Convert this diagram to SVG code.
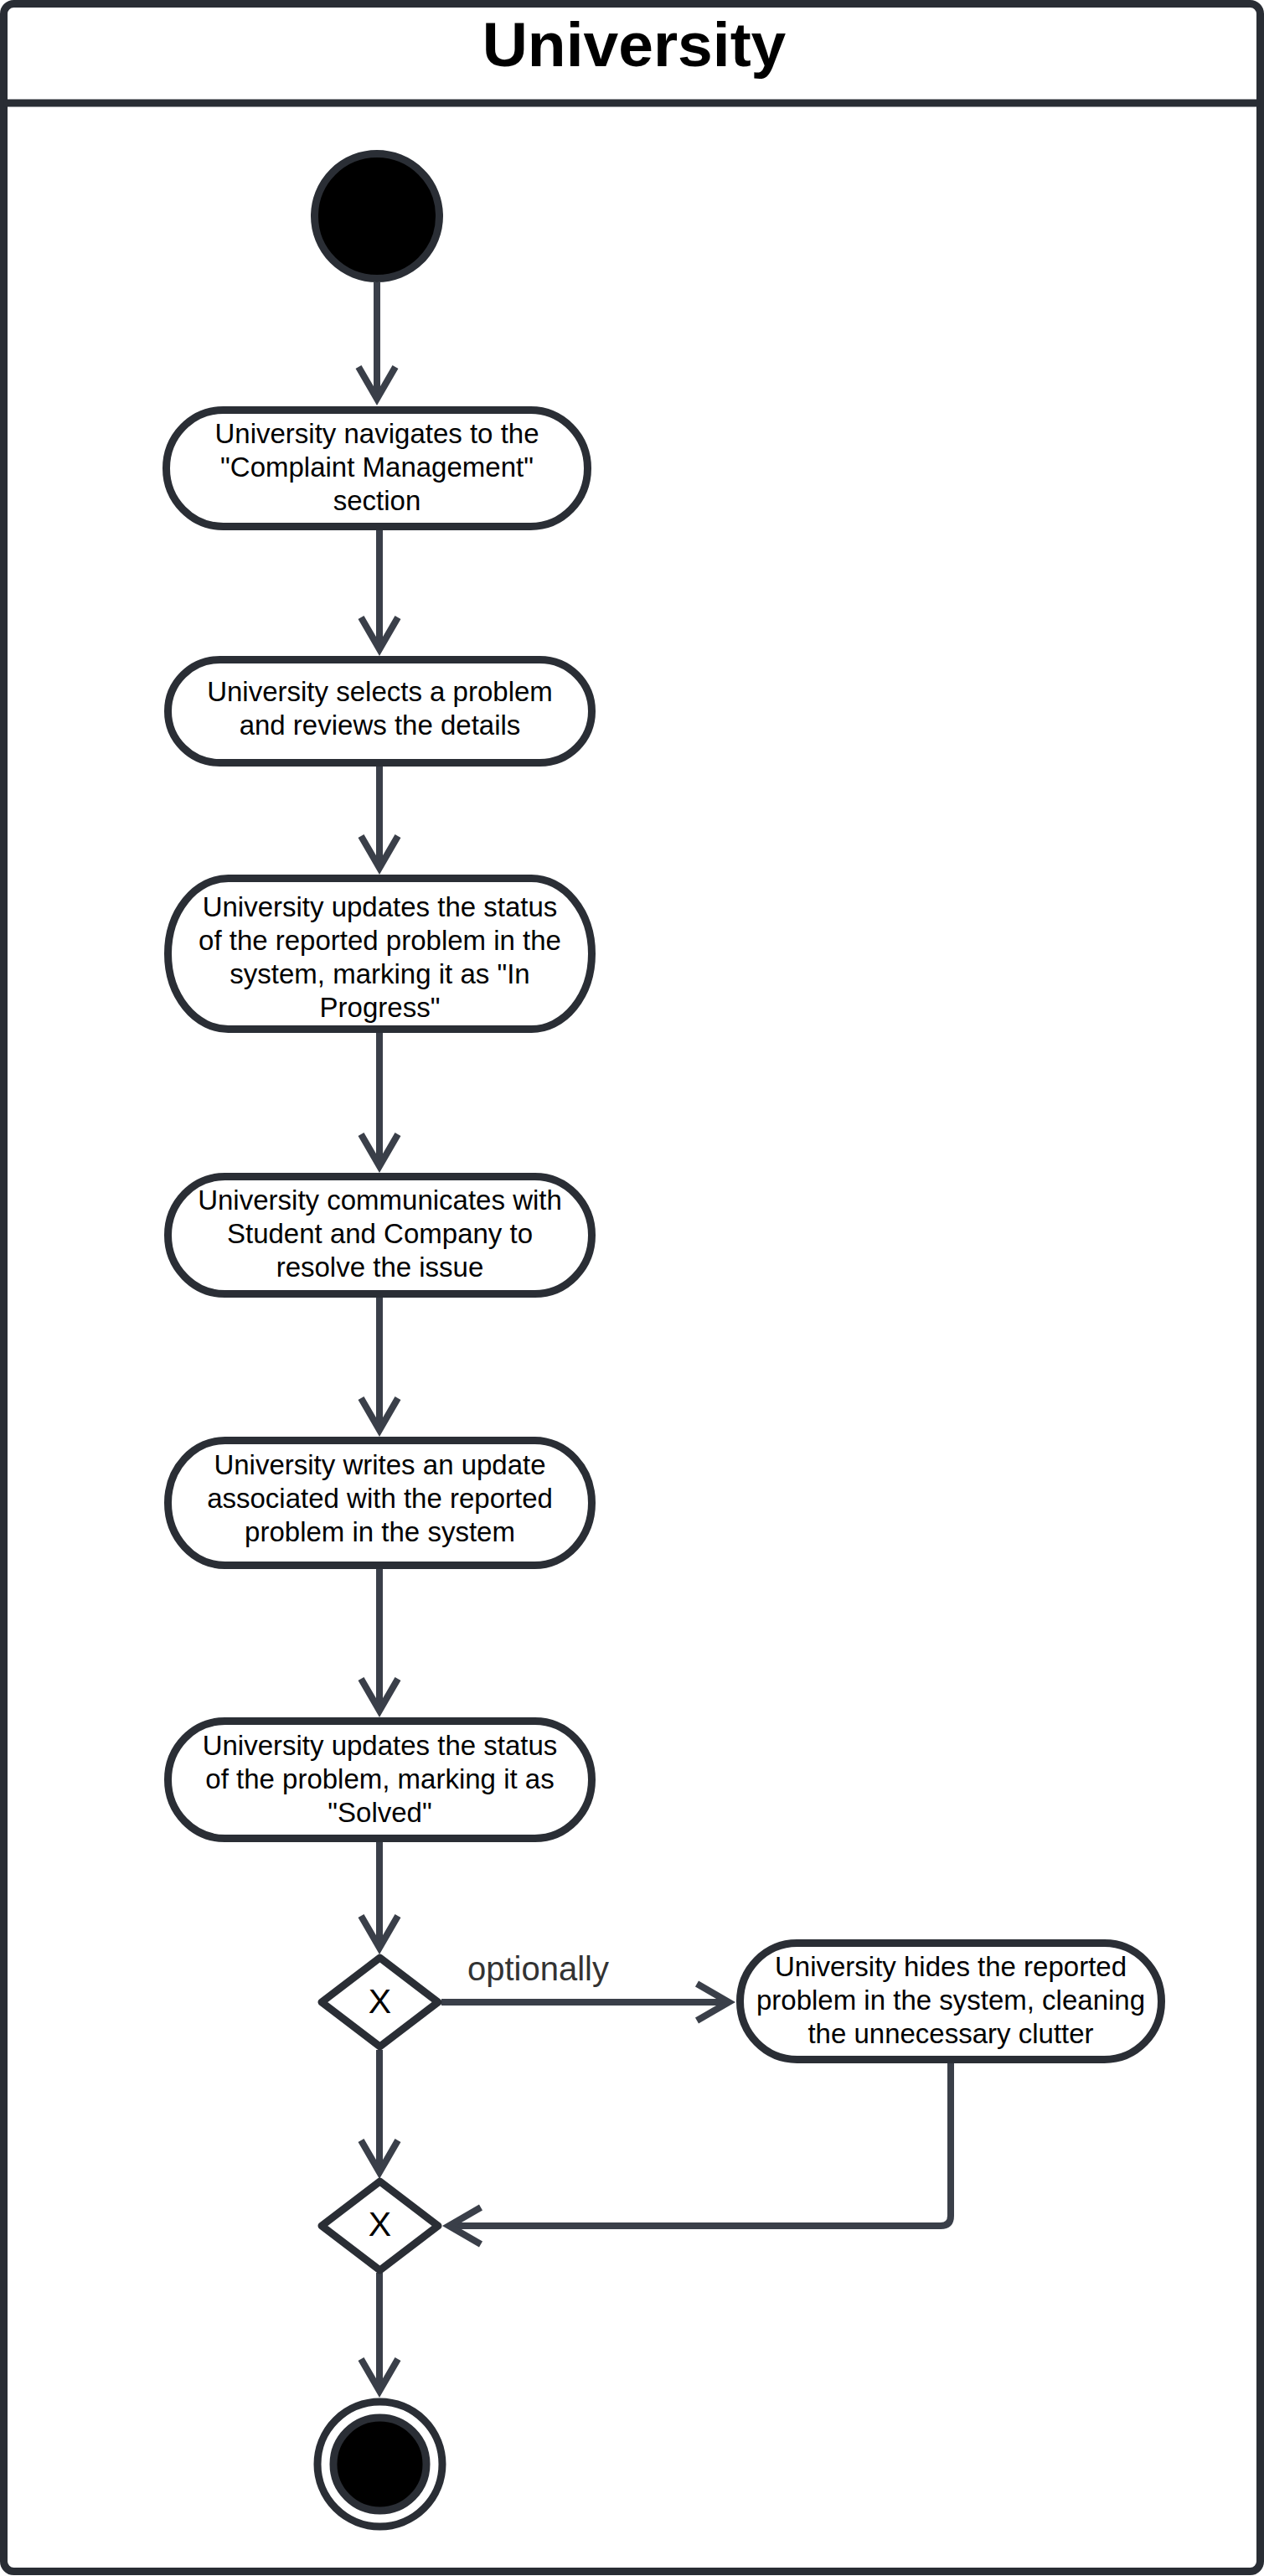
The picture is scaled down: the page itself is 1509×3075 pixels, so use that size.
<svg xmlns="http://www.w3.org/2000/svg" width="1509" height="3075" viewBox="0 0 1509 3075">
<style>
.frame{fill:#ffffff;stroke:#292d34;stroke-width:9}
.sep{stroke:#292d34;stroke-width:9}
.title{font-family:"Liberation Sans",Arial,sans-serif;font-size:75px;font-weight:bold;fill:#000;text-anchor:middle}
.act{fill:#ffffff;stroke:#2a2e35;stroke-width:9}
.lbl{font-family:"Liberation Sans",Arial,sans-serif;font-size:33px;fill:#000;text-anchor:middle}
.gw{fill:#ffffff;stroke:#2a2e35;stroke-width:9;stroke-linejoin:round}
.gx{font-family:"Liberation Sans",Arial,sans-serif;font-size:41px;fill:#000;text-anchor:middle}
.edge{fill:none;stroke:#3a3f49;stroke-width:8;marker-end:url(#arr)}
.elbl{font-family:"Liberation Sans",Arial,sans-serif;font-size:40px;fill:#333;}
</style>
<defs>
<marker id="arr" markerUnits="userSpaceOnUse" markerWidth="60" markerHeight="60" viewBox="0 0 60 60" refX="40" refY="30" orient="auto" overflow="visible">
<path d="M2 8 L40 30 L2 52" fill="none" stroke="#3a3f49" stroke-width="8"/>
</marker>
</defs>
<g id="pool">
<rect class="frame" x="4.5" y="4.5" width="1500" height="3065" rx="12"/>
<line class="sep" x1="4.5" y1="123" x2="1504.5" y2="123"/>
<text class="title" x="757" y="79">University</text>
</g>
<g id="connectors">
<path class="edge" d="M450 337 V476"/>
<path class="edge" d="M453 633 V775"/>
<path class="edge" d="M453 915 V1036"/>
<path class="edge" d="M453 1233 V1392"/>
<path class="edge" d="M453 1549 V1707"/>
<path class="edge" d="M453 1873 V2042"/>
<path class="edge" d="M453 2199 V2325"/>
<path class="edge" d="M527 2390 H870"/>
<text class="elbl" x="558" y="2364">optionally</text>
<path class="edge" d="M453 2447 V2593"/>
<path class="edge" d="M1135 2463 V2645 Q1135 2657 1123 2657 H536"/>
<path class="edge" d="M453 2713 V2854"/>
</g>
<g id="start">
<circle cx="450" cy="258" r="74.5" fill="#000" stroke="#2a2e35" stroke-width="9"/>
</g>
<g id="node1">
<rect class="act" x="198.5" y="489.5" width="503" height="139" rx="68" ry="69.5"/>
<text class="lbl" x="450" y="529">University navigates to the</text>
<text class="lbl" x="450" y="569">"Complaint Management"</text>
<text class="lbl" x="450" y="609">section</text>
</g>
<g id="node2">
<rect class="act" x="200.5" y="787.5" width="506" height="123" rx="62" ry="61.5"/>
<text class="lbl" x="453.5" y="837">University selects a problem</text>
<text class="lbl" x="453.5" y="877">and reviews the details</text>
</g>
<g id="node3">
<rect class="act" x="200.5" y="1048.5" width="506" height="180" rx="72" ry="90"/>
<text class="lbl" x="453.5" y="1094">University updates the status</text>
<text class="lbl" x="453.5" y="1134">of the reported problem in the</text>
<text class="lbl" x="453.5" y="1174">system, marking it as "In</text>
<text class="lbl" x="453.5" y="1214">Progress"</text>
</g>
<g id="node4">
<rect class="act" x="200.5" y="1404.5" width="506" height="140" rx="68" ry="70"/>
<text class="lbl" x="453.5" y="1444">University communicates with</text>
<text class="lbl" x="453.5" y="1484">Student and Company to</text>
<text class="lbl" x="453.5" y="1524">resolve the issue</text>
</g>
<g id="node5">
<rect class="act" x="200.5" y="1719.5" width="506" height="149" rx="68" ry="74.5"/>
<text class="lbl" x="453.5" y="1760">University writes an update</text>
<text class="lbl" x="453.5" y="1800">associated with the reported</text>
<text class="lbl" x="453.5" y="1840">problem in the system</text>
</g>
<g id="node6">
<rect class="act" x="200.5" y="2054.5" width="506" height="140" rx="68" ry="70"/>
<text class="lbl" x="453.5" y="2095">University updates the status</text>
<text class="lbl" x="453.5" y="2135">of the problem, marking it as</text>
<text class="lbl" x="453.5" y="2175">"Solved"</text>
</g>
<g id="decision1">
<path class="gw" d="M453.5 2337 L523 2390 L453.5 2443 L384 2390 Z"/>
<text class="gx" x="453.5" y="2403">X</text>
</g>
<g id="node7">
<rect class="act" x="883.5" y="2319.5" width="503" height="139" rx="68" ry="69.5"/>
<text class="lbl" x="1135" y="2359">University hides the reported</text>
<text class="lbl" x="1135" y="2399">problem in the system, cleaning</text>
<text class="lbl" x="1135" y="2439">the unnecessary clutter</text>
</g>
<g id="decision2">
<path class="gw" d="M453.5 2604 L523 2657 L453.5 2710 L384 2657 Z"/>
<text class="gx" x="453.5" y="2669">X</text>
</g>
<g id="end">
<circle cx="453.5" cy="2941.5" r="74.5" fill="#fff" stroke="#2a2e35" stroke-width="9"/>
<circle cx="453.5" cy="2941.5" r="55.5" fill="#000" stroke="#2a2e35" stroke-width="9"/>
</g>
</svg>
